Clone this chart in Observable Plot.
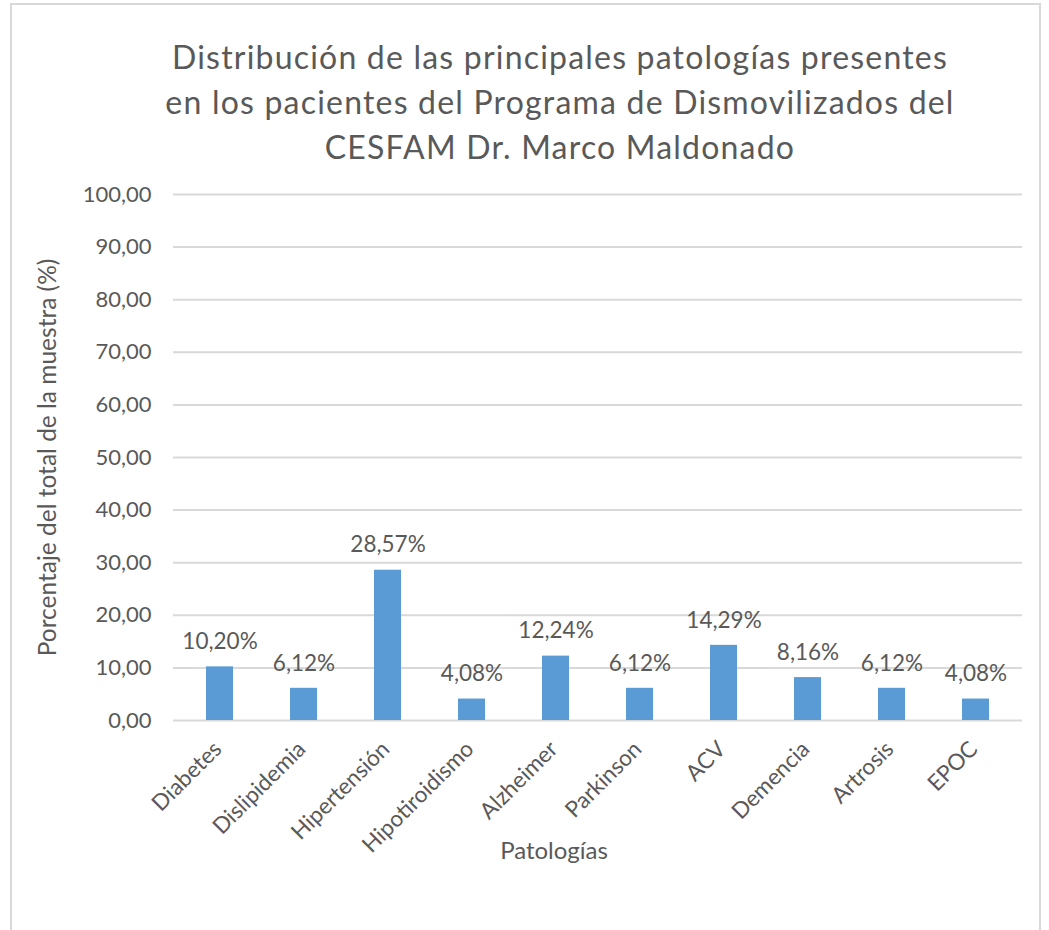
<!DOCTYPE html>
<html><head><meta charset="utf-8">
<script src="https://cdn.jsdelivr.net/npm/d3@7"></script>
<script src="https://cdn.jsdelivr.net/npm/@observablehq/plot@0.6"></script>
<style>
body{margin:0;background:#fff;font-family:Lato,sans-serif;}
#wrap{position:relative;width:1049px;height:930px;overflow:hidden;background:#fff;}
#frame{position:absolute;left:10px;top:3px;width:1031px;height:1000px;border:2px solid #D9D9D9;box-sizing:border-box;}
#title{position:absolute;left:60px;top:34px;width:1000px;text-align:center;font-size:32px;letter-spacing:1.2px;line-height:45px;color:#595959;}
#chart{position:absolute;left:0;top:175px;}
</style>
</head><body>
<div id="wrap">
<div id="frame"></div>
<div id="title">Distribución de las principales patologías presentes<br>en los pacientes del Programa de Dismovilizados del<br>CESFAM Dr. Marco Maldonado</div>
<div id="chart"></div>
</div>
<script>
const categories = ["Diabetes","Dislipidemia","Hipertensión","Hipotiroidismo","Alzheimer","Parkinson","ACV","Demencia","Artrosis","EPOC"];
const values = [10.20, 6.12, 28.57, 4.08, 12.24, 6.12, 14.29, 8.16, 6.12, 4.08];
const yTicks = [0,10,20,30,40,50,60,70,80,90,100];
const yLabel = "Porcentaje del total de la muestra (%)";
const xLabel = "Patologías";

const data = categories.map((c,i)=>({c, v: values[i]}));
const fmt = d => d.toFixed(2).replace(".", ",");

const chart = Plot.plot({
  width: 1049, height: 755,
  marginTop: 19, marginBottom: 210, marginLeft: 173, marginRight: 27,
  style: {fontFamily: "Lato, sans-serif", color: "#595959", background: "transparent", overflow: "visible"},
  x: {domain: categories, paddingInner: 0.68, paddingOuter: 0.34, label: null, axis: null},
  y: {domain: [0,100], label: null, axis: null},
  marks: [
    Plot.gridY(yTicks, {stroke: "#D9D9D9", strokeWidth: 2, strokeOpacity: 1}),
    Plot.axisY(yTicks, {tickSize: 0, tickPadding: 22, tickFormat: fmt, fontSize: 22, label: null, fill: "#595959"}),
    Plot.barY(data, {x: "c", y: "v", fill: "#5B9BD5"}),
    Plot.text(data, {x: "c", y: "v", text: d => fmt(d.v) + "%", dy: -25, fontSize: 22.5, fill: "#595959"}),
    Plot.text(categories, {x: d => d, frameAnchor: "bottom", rotate: -45, textAnchor: "end", dx: 3, dy: 30, fontSize: 22.5, fill: "#595959"}),
    Plot.text([yLabel], {frameAnchor: "left", textAnchor: "middle", rotate: -90, dx: -125, fontSize: 24.5, fill: "#595959"}),
    Plot.text([xLabel], {frameAnchor: "bottom", textAnchor: "middle", dx: -44, dy: 138, fontSize: 24, fill: "#595959"})
  ]
});
document.getElementById("chart").appendChild(chart);
</script>
</body></html>
